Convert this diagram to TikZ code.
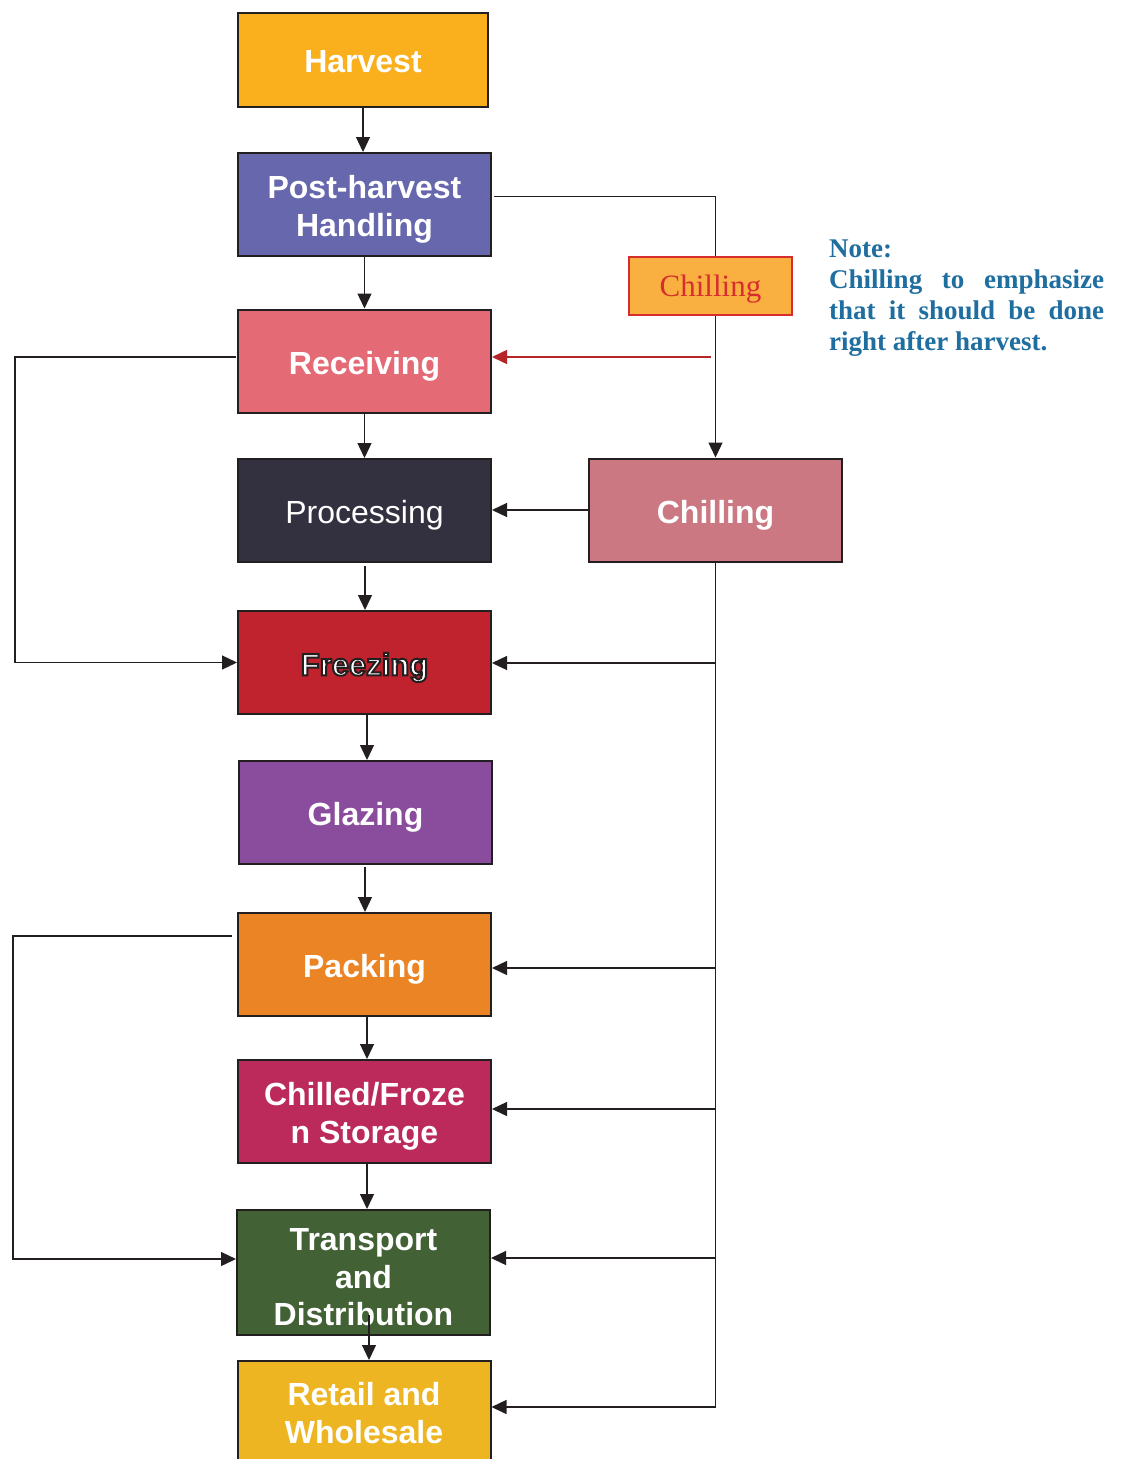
\documentclass[tikz,border=0pt]{standalone}
\usepackage{fontspec}
\setmainfont{Liberation Serif}
\setsansfont{Liberation Sans}
\usetikzlibrary{arrows.meta}
\definecolor{cHarvest}{HTML}{FAAF1D}
\definecolor{cPost}{HTML}{6667AD}
\definecolor{cRecv}{HTML}{E46A75}
\definecolor{cProc}{HTML}{33313F}
\definecolor{cChill}{HTML}{CB7882}
\definecolor{cFreeze}{HTML}{C1232E}
\definecolor{cGlaze}{HTML}{8A4C9C}
\definecolor{cPack}{HTML}{EA8424}
\definecolor{cStore}{HTML}{BC2A5B}
\definecolor{cTrans}{HTML}{426135}
\definecolor{cRetail}{HTML}{ECB521}
\definecolor{cLine}{HTML}{231F20}
\definecolor{cRed}{HTML}{D62D2F}
\definecolor{cOrange}{HTML}{F9B040}
\definecolor{cNote}{HTML}{1F6EA0}
\newcommand{\outlinedtext}[1]{\special{pdf:literal direct 0.137 0.122 0.125 RG 2 w 2 Tr}#1\special{pdf:literal direct 0 Tr}}
\begin{document}
\begin{tikzpicture}[x=1pt,y=-1pt,
  box/.style={draw=cLine, line width=2pt, minimum width=253pt, minimum height=103pt, inner sep=0pt},
  lbl/.style={font=\sffamily\bfseries\fontsize{32}{37.5}\selectfont, text=white, align=center, inner sep=0pt, yshift=-5pt},
  arr/.style={draw=cLine, line width=1.3pt, -{Triangle[length=15pt,width=14pt]}},
  redarr/.style={draw=cRed!85!black, line width=1.5pt, -{Triangle[length=15pt,width=14pt]}},
  ln/.style={draw=cLine, line width=1.3pt}]
\useasboundingbox (0,0) rectangle (1124,1459);
\fill[white] (0,0) rectangle (1124,1459);

% main boxes
\node[box, fill=cHarvest, minimum width=250pt, minimum height=94pt] (harvest) at (363,60) {};
\node[lbl, yshift=3pt] (harvestT) at (harvest) {Harvest};
\node[box, fill=cPost] (post) at (364.5,204.5) {};
\node[lbl] (postT) at (post) {Post-harvest\\Handling};
\node[box, fill=cRecv] (recv) at (364.5,361) {};
\node[lbl] (recvT) at (recv) {Receiving};
\node[box, fill=cProc] (proc) at (364.5,510.5) {};
\node[lbl, font=\sffamily\fontsize{32}{37}\selectfont] (procT) at (proc) {Processing};
\node[box, fill=cChill] (chill) at (715.5,510) {};
\node[lbl] (chillT) at (chill) {Chilling};
\node[box, fill=cFreeze] (freeze) at (364.5,662.5) {};
\node[lbl, font=\sffamily\bfseries\fontsize{31}{37}\selectfont] (freezeT) at (freeze) {\outlinedtext{Freezing}};
\node[box, fill=cGlaze] (glaze) at (365.5,812.5) {};
\node[lbl] (glazeT) at (glaze) {Glazing};
\node[box, fill=cPack] (pack) at (364.5,964.5) {};
\node[lbl] (packT) at (pack) {Packing};
\node[box, fill=cStore] (store) at (364.5,1111.5) {};
\node[lbl] (storeT) at (store) {Chilled/Froze\\n Storage};
\node[box, fill=cTrans, minimum height=125pt] (trans) at (363.5,1272.5) {};
\node[lbl] (transT) at (trans) {Transport\\and\\Distribution};
\node[box, fill=cRetail, minimum height=110pt, anchor=north] (retail) at (364,1360) {};
\node[lbl, yshift=8pt] (retailT) at (retail) {Retail and\\Wholesale};

% main chain
\draw[arr] (harvest.south) -- (harvest.south |- post.north);
\draw[arr] (post.south) -- (post.south |- recv.north);
\draw[arr] (recv.south) -- (recv.south |- proc.north);
\coordinate (p1) at (365,566);
\draw[arr] (p1) -- (p1 |- freeze.north);
\coordinate (p2) at (367,714);
\draw[arr] (p2) -- (p2 |- glaze.north);
\coordinate (p3) at (365,867);
\draw[arr] (p3) -- (p3 |- pack.north);
\coordinate (p4) at (367,1016);
\draw[arr] (p4) -- (p4 |- store.north);
\coordinate (p5) at (367,1163);
\draw[arr] (p5) -- (p5 |- trans.north);
\coordinate (trin) at (369,1315);
\draw[arr] (trin) -- (trin |- retail.north);

% post-harvest to chilling
\draw[arr] ([xshift=2pt,yshift=8pt]post.east) -| (chill.north);
\node[draw=cRed, line width=1.5pt, fill=cOrange, minimum width=163pt, minimum height=58pt, inner sep=0pt] (chsmall) at (710.5,286) {};
\node[text=cRed, font=\rmfamily\fontsize{31}{37}\selectfont, inner sep=0pt, yshift=-3pt] (chsmallT) at (chsmall) {Chilling};
\coordinate (redstart) at (711,357);
\draw[redarr] (redstart) -- (recv.east |- redstart);

% chilling to processing
\draw[arr] (chill.west) -- (proc.east |- chill.west);

% trunk from chilling
\coordinate (tr) at (715.5,1407);
\draw[ln] (chill.south) -- (tr);
\coordinate (b1) at (715.5,663);
\coordinate (b2) at (715.5,968);
\coordinate (b3) at (715.5,1109);
\coordinate (b4) at (715.5,1258);
\draw[arr] (b1) -- (freeze.east |- b1);
\draw[arr] (b2) -- (pack.east |- b2);
\draw[arr] (b3) -- (store.east |- b3);
\draw[arr] (b4) -- (trans.east |- b4);
\draw[arr] (tr) -- (retail.east |- tr);

% left loops
\coordinate (l1a) at (236,357);
\coordinate (l1b) at (15,500);
\draw[arr] (l1a) -| (l1b) |- (freeze.west);
\coordinate (l2a) at (232,936);
\coordinate (l2b) at (13,1100);
\draw[arr] (l2a) -| (l2b) |- ([yshift=13.5pt]trans.west);

% note
\node[anchor=north west, text=cNote, font=\rmfamily\bfseries\fontsize{27}{31}\selectfont, align=left, inner sep=0pt] (note) at (829,240)
  {Note:\\\hbox to 275pt{Chilling\hfill to\hfill emphasize}\\\hbox to 275pt{that\hfill it\hfill should\hfill be\hfill done}\\right after harvest.};
\end{tikzpicture}
\end{document}
